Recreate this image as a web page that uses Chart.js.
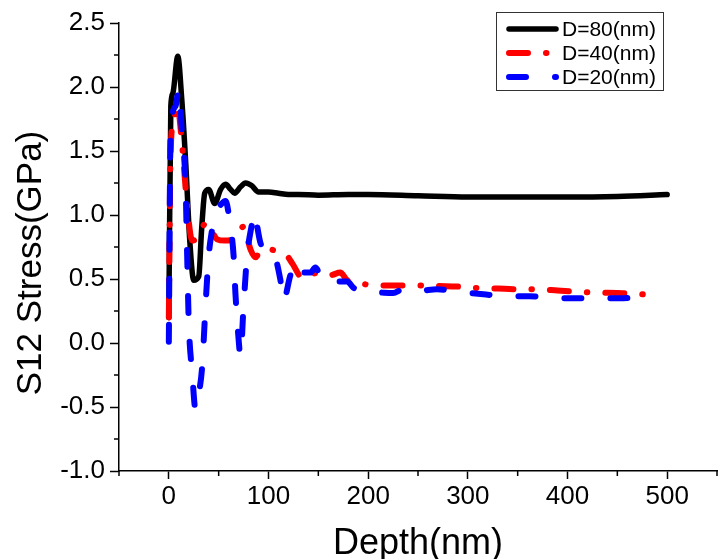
<!DOCTYPE html>
<html>
<head>
<meta charset="utf-8">
<script src="https://cdn.jsdelivr.net/npm/chart.js@4.4.0/dist/chart.umd.min.js"></script>
<style>
  html, body { margin: 0; padding: 0; background: #fff; }
  canvas { display: block; }
</style>
</head>
<body>
<canvas id="myChart" width="723" height="559"></canvas>
<script>
// values
const labels = ["D=80(nm)", "D=40(nm)", "D=20(nm)"];

const depth80 = [0, 2, 4, 9, 13, 17, 21, 25, 30, 33, 36, 40, 46, 52, 57, 62, 66, 72, 77, 83, 90, 100, 110, 120, 130, 150, 180, 200, 250, 300, 350, 400, 450, 500];
const stress80 = [0.2, 1.85, 1.95, 2.24, 1.9, 1.4, 0.8, 0.49, 0.52, 0.9, 1.17, 1.2, 1.09, 1.2, 1.24, 1.2, 1.17, 1.22, 1.25, 1.23, 1.18, 1.18, 1.17, 1.16, 1.16, 1.155, 1.16, 1.16, 1.15, 1.14, 1.14, 1.14, 1.145, 1.16];

const depth40 = [0, 1.7, 5, 8.4, 13.4, 18.4, 23.4, 28, 33, 38.5, 44, 48.5, 56, 63.5, 70, 75, 82, 87, 92, 102, 112, 118.6, 124, 134, 144, 154, 162, 172, 179, 189, 209, 232, 249, 270, 292, 309, 330, 349, 369, 390, 409, 426, 450, 469, 487];
const stress40 = [0.2, 1.46, 1.75, 1.86, 1.54, 1.07, 0.8, 0.82, 0.9, 0.94, 0.86, 0.81, 0.8, 0.81, 0.86, 0.91, 0.73, 0.67, 0.72, 0.73, 0.7, 0.68, 0.62, 0.51, 0.54, 0.55, 0.53, 0.55, 0.49, 0.47, 0.45, 0.45, 0.45, 0.445, 0.44, 0.43, 0.425, 0.42, 0.42, 0.41, 0.4, 0.395, 0.39, 0.385, 0.37];

const depth20 = [0, 1.7, 6.7, 10, 13.4, 16.7, 18.4, 20, 23.4, 26.8, 30, 33.5, 36.8, 40, 43.5, 46.8, 52, 56.8, 61.8, 65, 66.8, 70, 71.8, 75, 78.5, 83.5, 85, 92, 98.6, 105, 112, 115, 122, 128.6, 134, 142, 147, 155, 167, 179, 185.5, 197, 210, 225, 235, 244, 256, 269, 290.6, 315.6, 339, 362, 385.7, 409, 432.6, 456, 478];
const stress20 = [0.01, 1.61, 1.85, 1.98, 1.61, 1.25, 0.68, 0.16, -0.23, -0.52, -0.4, -0.18, 0.29, 0.68, 0.89, 1.02, 1.08, 1.11, 0.91, 0.68, 0.39, 0.03, -0.1, 0.29, 0.68, 0.94, 1.02, 0.78, 0.7, 0.69, 0.49, 0.33, 0.53, 0.63, 0.55, 0.55, 0.59, 0.48, 0.48, 0.48, 0.43, 0.4, 0.395, 0.39, 0.42, 0.4, 0.41, 0.42, 0.4, 0.38, 0.365, 0.365, 0.35, 0.35, 0.35, 0.35, 0.36];

const xTickLabels = [0, 100, 200, 300, 400, 500];
const yTickLabels = [-1.0, -0.5, 0.0, 0.5, 1.0, 1.5, 2.0, 2.5];
const xTitle = "Depth(nm)";
const yTitle = "S12 Stress(GPa)";

const FONT = "'Liberation Sans', Arial, sans-serif";

const pts = (xs, ys) => xs.map((x, i) => ({ x: x, y: ys[i] }));

const isMajor = (v, list) => list.some(t => Math.abs(t - v) < 1e-6);

// minor ticks (shorter), axis titles and boxed legend, drawn after the chart
const extras = {
  id: "extras",
  afterDraw(chart) {
    const ctx = chart.ctx;
    const xs = chart.scales.x, ys = chart.scales.y;
    const area = chart.chartArea;
    ctx.save();
    ctx.strokeStyle = "#000";
    ctx.lineWidth = 1.5;
    xs.ticks.forEach(t => {
      if (isMajor(t.value, xTickLabels)) return;
      const px = xs.getPixelForValue(t.value);
      ctx.beginPath(); ctx.moveTo(px, area.bottom); ctx.lineTo(px, area.bottom + 5); ctx.stroke();
    });
    ys.ticks.forEach(t => {
      if (isMajor(t.value, yTickLabels)) return;
      const py = ys.getPixelForValue(t.value);
      ctx.beginPath(); ctx.moveTo(area.left - 5, py); ctx.lineTo(area.left, py); ctx.stroke();
    });

    // axis titles
    ctx.fillStyle = "#000";
    ctx.font = "36px " + FONT;
    ctx.textAlign = "center";
    ctx.textBaseline = "middle";
    ctx.fillText(xTitle, (area.left + area.right) / 2, area.bottom + 73);
    ctx.save();
    ctx.translate(31, (area.top + area.bottom) / 2 + 16);
    ctx.rotate(-Math.PI / 2);
    ctx.font = "35px " + FONT;
    ctx.fillText(yTitle, 0, 0);
    ctx.restore();

    // legend
    const boxL = area.right - 221, boxT = area.top - 11, boxW = 167, boxH = 78;
    ctx.fillStyle = "#fff";
    ctx.fillRect(boxL, boxT, boxW, boxH);
    ctx.lineWidth = 1;
    ctx.strokeStyle = "#333";
    ctx.strokeRect(boxL + 0.5, boxT + 0.5, boxW, boxH);
    ctx.font = "21px " + FONT;
    ctx.textBaseline = "middle";
    ctx.textAlign = "left";
    chart.data.datasets.forEach((ds, i) => {
      const y = boxT + 17 + i * 24;
      ctx.save();
      ctx.strokeStyle = ds.borderColor;
      ctx.lineWidth = ds.borderWidth;
      ctx.lineCap = ds.borderCapStyle;
      ctx.setLineDash(ds.borderDash);
      ctx.beginPath(); ctx.moveTo(boxL + 13, y); ctx.lineTo(boxL + 60, y); ctx.stroke();
      ctx.restore();
      ctx.fillStyle = "#000";
      ctx.fillText(ds.label, boxL + 66, y + 1);
    });
    ctx.restore();
  }
};

new Chart(document.getElementById("myChart"), {
  type: "line",
  data: {
    datasets: [
      { label: labels[0], data: pts(depth80, stress80), borderColor: "#000000", borderWidth: 5.5, borderDash: [], borderCapStyle: "round", order: 3 },
      { label: labels[1], data: pts(depth40, stress40), borderColor: "#ff0000", borderWidth: 6, borderDash: [19, 18, 0.5, 18], borderCapStyle: "round", order: 2 },
      { label: labels[2], data: pts(depth20, stress20), borderColor: "#0000ff", borderWidth: 6, borderDash: [17, 29], borderCapStyle: "round", order: 1 }
    ]
  },
  options: {
    responsive: false,
    animation: false,
    elements: {
      point: { radius: 0 },
      line: { cubicInterpolationMode: "monotone", borderJoinStyle: "round", fill: false }
    },
    layout: { padding: { top: 23, right: 6, left: 0, bottom: 0 } },
    plugins: { legend: { display: false }, tooltip: { enabled: false } },
    scales: {
      x: {
        type: "linear",
        min: -50, max: 550,
        afterFit: s => { s.height = 88; },
        border: { display: true, color: "#000", width: 1.5 },
        grid: {
          drawOnChartArea: false, drawTicks: true, tickLength: 8, tickWidth: 1.5,
          tickColor: c => (c.tick && isMajor(c.tick.value, xTickLabels)) ? "#000" : "rgba(0,0,0,0)"
        },
        ticks: {
          stepSize: 50, autoSkip: false, maxRotation: 0, padding: 2,
          color: "#000", font: { family: FONT, size: 26 },
          callback: v => isMajor(v, xTickLabels) ? String(v) : ""
        }
      },
      y: {
        type: "linear",
        min: -1.0, max: 2.5,
        afterFit: s => { s.width = 119; },
        border: { display: true, color: "#000", width: 1.5 },
        grid: {
          drawOnChartArea: false, drawTicks: true, tickLength: 9, tickWidth: 1.5,
          tickColor: c => (c.tick && isMajor(c.tick.value, yTickLabels)) ? "#000" : "rgba(0,0,0,0)"
        },
        ticks: {
          stepSize: 0.25, autoSkip: false, padding: 5,
          color: "#000", font: { family: FONT, size: 26 },
          callback: v => isMajor(v, yTickLabels) ? v.toFixed(1) : ""
        }
      }
    }
  },
  plugins: [extras]
});
</script>
</body>
</html>
